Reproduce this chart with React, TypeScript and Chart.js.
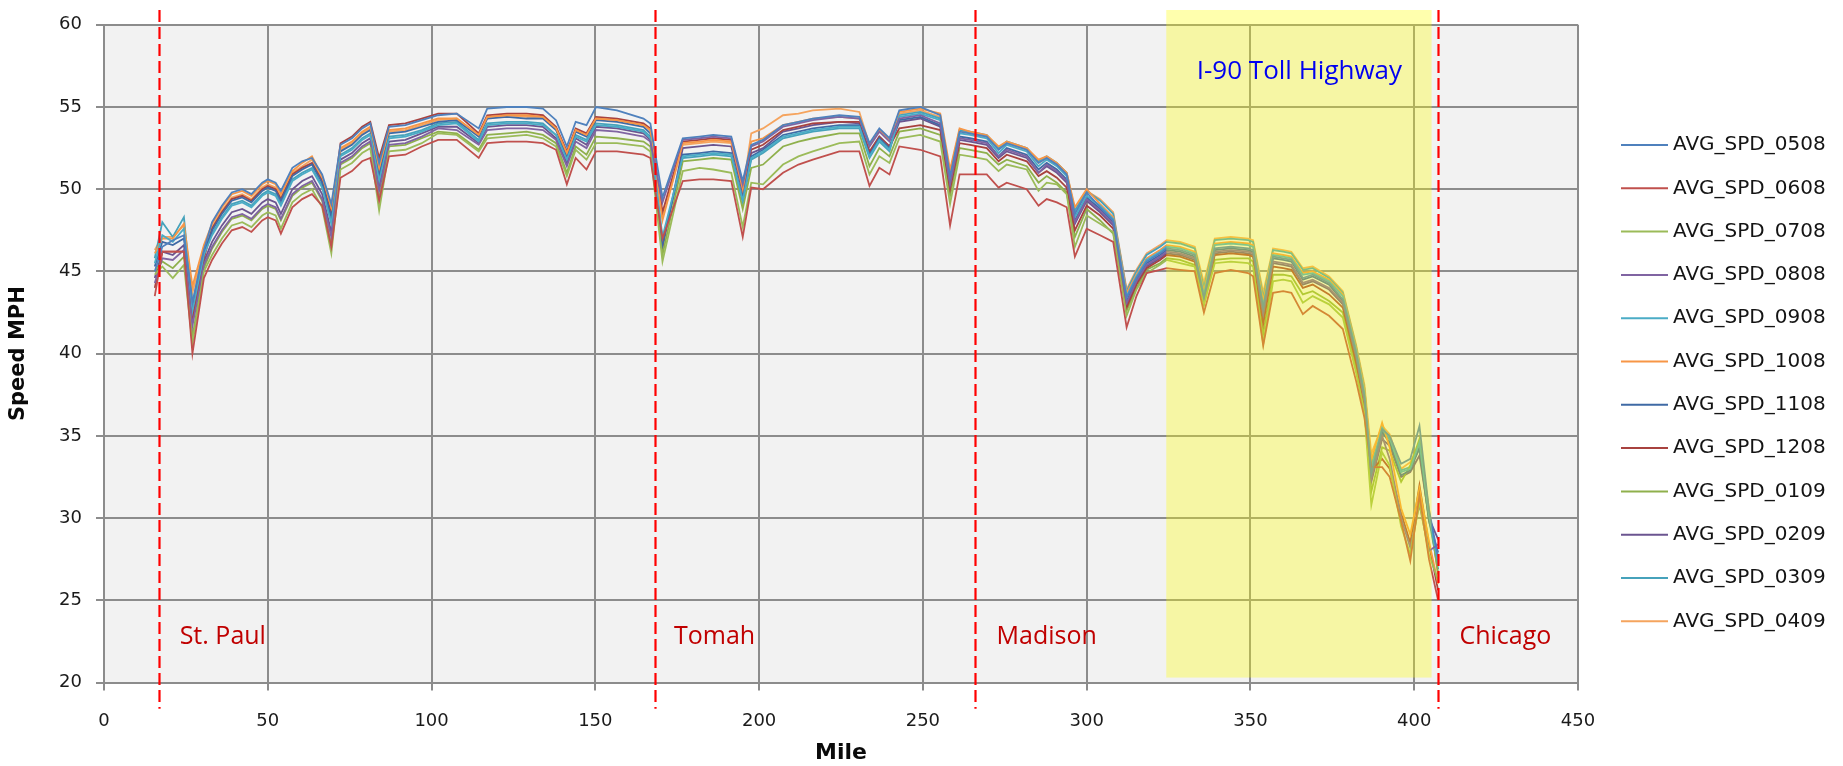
import React, { useEffect, useRef } from 'react';
import { Chart, registerables } from 'chart.js';

Chart.register(...registerables);

// Mile posts along the corridor (shared by every series)
const miles = [15.5, 17.8, 21.0, 24.4, 27.0, 30.5, 33.0, 36.0, 39.0, 42.2, 45.0, 48.3, 50.0, 52.4, 54.0, 57.5, 60.5, 63.5, 66.6, 69.4, 72.2, 75.7, 78.8, 81.3, 84.0, 87.0, 92.0, 97.0, 102.0, 107.7, 114.4, 117.0, 123.0, 129.0, 134.0, 138.0, 141.3, 144.0, 147.3, 150.2, 156.6, 164.7, 166.8, 170.5, 176.7, 181.8, 186.0, 191.5, 195.0, 197.6, 201.2, 207.3, 212.0, 216.4, 224.5, 230.6, 233.7, 236.7, 239.8, 242.8, 249.2, 255.3, 258.3, 261.2, 264.4, 269.5, 273.1, 275.6, 281.7, 285.3, 287.8, 290.9, 293.9, 296.4, 300.0, 304.1, 308.1, 312.2, 315.2, 318.3, 322.4, 324.4, 328.5, 333.0, 335.8, 339.1, 344.0, 349.3, 350.8, 353.9, 356.9, 360.0, 362.5, 366.0, 369.0, 374.0, 378.2, 382.3, 384.8, 386.9, 390.2, 392.5, 396.0, 398.8, 401.6, 404.5, 407.3];

// Monthly average speeds (mph) at each mile post
const spd0508 = [45.0, 46.5, 46.9, 47.2, 43.1, 46.3, 48.0, 49.0, 49.8, 50.0, 49.7, 50.4, 50.6, 50.4, 49.9, 51.3, 51.7, 51.9, 50.9, 49.1, 52.7, 53.1, 53.7, 54.0, 51.6, 53.8, 53.9, 54.2, 54.5, 54.6, 53.7, 54.9, 55.0, 55.0, 54.9, 54.2, 52.6, 54.1, 53.9, 55.0, 54.8, 54.3, 54.0, 49.5, 53.1, 53.2, 53.3, 53.2, 50.5, 52.7, 53.0, 53.9, 54.1, 54.3, 54.5, 54.4, 52.8, 53.7, 53.1, 54.8, 55.0, 54.5, 50.8, 53.5, 53.4, 53.2, 52.4, 52.8, 52.4, 51.6, 51.9, 51.5, 50.9, 48.5, 49.8, 48.9, 48.1, 43.4, 44.6, 45.6, 46.1, 46.4, 46.3, 46.0, 43.4, 46.4, 46.5, 46.4, 46.3, 42.8, 45.9, 45.8, 45.7, 44.6, 44.8, 44.3, 43.3, 40.0, 37.4, 32.7, 35.4, 35.0, 33.3, 33.6, 35.6, 30.5, 27.6];
const spd0608 = [43.5, 46.2, 46.2, 46.2, 40.0, 44.6, 45.7, 46.7, 47.5, 47.7, 47.4, 48.1, 48.3, 48.1, 47.3, 48.9, 49.4, 49.7, 49.0, 46.5, 50.7, 51.1, 51.7, 51.9, 49.3, 52.0, 52.1, 52.6, 53.0, 53.0, 51.9, 52.8, 52.9, 52.9, 52.8, 52.4, 50.3, 51.9, 51.2, 52.3, 52.3, 52.1, 51.9, 47.0, 50.5, 50.6, 50.6, 50.5, 47.1, 50.1, 50.0, 51.0, 51.5, 51.8, 52.3, 52.3, 50.2, 51.3, 50.9, 52.6, 52.4, 52.0, 47.8, 50.9, 50.9, 50.9, 50.1, 50.4, 50.0, 49.0, 49.4, 49.2, 48.9, 45.9, 47.6, 47.2, 46.8, 41.6, 43.5, 44.9, 45.1, 45.2, 45.1, 45.0, 42.5, 44.9, 45.1, 44.9, 44.7, 40.5, 43.7, 43.8, 43.7, 42.4, 42.9, 42.3, 41.5, 38.3, 36.1, 33.1, 33.1, 32.5, 29.8, 27.4, 31.4, 27.5, 25.0];
const spd0708 = [44.8, 45.3, 44.6, 45.4, 40.6, 45.0, 46.0, 47.0, 47.8, 48.0, 47.7, 48.4, 48.6, 48.4, 47.6, 49.2, 49.7, 50.0, 48.9, 46.1, 51.2, 51.6, 52.2, 52.5, 48.7, 52.3, 52.4, 52.8, 53.4, 53.3, 52.3, 53.1, 53.2, 53.3, 53.1, 52.6, 50.8, 52.4, 51.8, 52.8, 52.8, 52.6, 52.3, 45.6, 51.1, 51.3, 51.2, 51.0, 47.7, 50.4, 50.3, 51.5, 52.0, 52.3, 52.8, 52.9, 50.9, 52.0, 51.6, 53.1, 53.3, 52.9, 49.1, 52.1, 52.0, 51.8, 51.1, 51.5, 51.2, 49.9, 50.4, 50.3, 49.7, 46.5, 48.4, 47.9, 47.4, 42.3, 43.9, 44.9, 45.4, 45.7, 45.5, 45.3, 43.0, 45.5, 45.6, 45.5, 45.3, 40.6, 44.4, 44.5, 44.4, 43.1, 43.5, 43.0, 42.2, 38.8, 36.4, 30.8, 34.0, 33.2, 29.5, 27.8, 31.0, 27.8, 26.2];
const spd0808 = [44.3, 45.8, 45.7, 46.3, 41.7, 45.4, 46.5, 47.5, 48.3, 48.5, 48.2, 48.9, 49.1, 48.9, 48.2, 49.7, 50.2, 50.5, 49.4, 47.1, 51.6, 52.0, 52.6, 52.9, 49.9, 52.7, 52.8, 53.2, 53.7, 53.6, 52.7, 53.6, 53.7, 53.7, 53.6, 53.0, 51.4, 52.9, 52.5, 53.6, 53.5, 53.2, 52.9, 49.2, 53.0, 53.1, 53.2, 53.1, 50.3, 52.6, 52.9, 53.8, 54.0, 54.2, 54.4, 54.3, 52.6, 53.5, 52.9, 54.3, 54.5, 54.0, 50.3, 53.1, 53.0, 52.8, 52.0, 52.4, 52.0, 51.0, 51.5, 51.1, 50.5, 48.0, 49.4, 48.7, 47.9, 43.1, 44.4, 45.4, 45.9, 46.2, 46.1, 45.8, 43.2, 46.2, 46.3, 46.2, 46.1, 42.4, 45.6, 45.5, 45.4, 44.3, 44.5, 44.0, 43.1, 39.8, 37.1, 32.4, 35.0, 33.6, 30.0, 28.2, 30.8, 28.0, 28.4];
const spd0908 = [45.5, 47.2, 46.8, 47.6, 42.6, 46.0, 47.2, 48.2, 49.0, 49.2, 48.9, 49.6, 49.8, 49.6, 49.0, 50.5, 50.9, 51.2, 50.1, 47.9, 52.0, 52.4, 53.0, 53.3, 50.5, 53.1, 53.2, 53.5, 53.9, 54.0, 52.9, 53.9, 54.0, 54.0, 53.9, 53.3, 51.8, 53.2, 52.9, 53.9, 53.8, 53.5, 53.1, 47.1, 52.0, 52.1, 52.2, 52.1, 49.3, 51.9, 52.3, 53.2, 53.4, 53.6, 53.8, 53.8, 52.0, 53.0, 52.4, 54.4, 54.6, 54.2, 50.5, 53.4, 53.3, 53.1, 52.2, 52.7, 52.3, 51.4, 51.8, 51.4, 50.8, 48.3, 49.6, 49.0, 48.2, 43.5, 44.7, 45.7, 46.2, 46.5, 46.4, 46.1, 43.6, 46.6, 46.7, 46.6, 46.5, 42.9, 46.0, 45.9, 45.8, 44.8, 44.9, 44.4, 43.5, 40.2, 37.6, 33.0, 35.5, 34.9, 32.8, 33.0, 34.6, 30.2, 27.2];
const spd1008 = [46.1, 47.0, 47.0, 47.9, 44.1, 46.6, 47.9, 48.9, 49.7, 49.9, 49.6, 50.3, 50.5, 50.3, 49.7, 51.1, 51.6, 52.0, 50.8, 48.9, 52.5, 52.9, 53.5, 53.8, 51.3, 53.6, 53.7, 54.0, 54.3, 54.3, 53.3, 54.4, 54.5, 54.5, 54.4, 53.7, 52.2, 53.6, 53.3, 54.3, 54.2, 53.9, 53.6, 48.1, 52.8, 52.9, 53.0, 52.9, 50.0, 52.9, 53.1, 53.9, 54.1, 54.3, 54.4, 54.3, 52.7, 53.6, 53.0, 54.7, 54.9, 54.6, 51.2, 53.7, 53.5, 53.3, 52.6, 52.9, 52.5, 51.8, 52.0, 51.6, 51.0, 48.9, 50.0, 49.1, 48.3, 43.7, 44.8, 45.8, 46.3, 46.6, 46.5, 46.2, 43.8, 46.7, 46.8, 46.7, 46.6, 43.2, 46.1, 46.0, 45.9, 44.9, 45.0, 44.5, 43.6, 40.3, 37.8, 33.5, 35.8, 34.3, 30.6, 29.0, 31.8, 28.6, 26.0];
const spd1108 = [45.3, 46.8, 46.6, 47.0, 42.9, 46.1, 47.5, 48.5, 49.3, 49.5, 49.2, 49.9, 50.1, 49.9, 49.3, 50.8, 51.2, 51.5, 50.4, 48.3, 52.3, 52.7, 53.3, 53.6, 50.9, 53.4, 53.5, 53.8, 54.1, 54.2, 53.2, 54.3, 54.4, 54.3, 54.3, 53.6, 52.0, 53.5, 53.2, 54.2, 54.1, 53.8, 53.4, 46.7, 52.1, 52.2, 52.3, 52.2, 49.4, 52.0, 52.4, 53.3, 53.5, 53.7, 53.9, 53.9, 52.1, 53.1, 52.5, 54.2, 54.4, 53.9, 50.4, 53.2, 53.1, 52.9, 52.0, 52.5, 52.1, 51.2, 51.6, 51.2, 50.6, 48.1, 49.5, 48.8, 48.0, 43.2, 44.5, 45.5, 46.0, 46.3, 46.2, 45.9, 43.3, 46.3, 46.4, 46.3, 46.2, 42.6, 45.8, 45.7, 45.6, 44.5, 44.7, 44.2, 43.2, 39.9, 37.3, 32.5, 35.2, 34.6, 32.6, 32.9, 34.3, 29.8, 27.9];
const spd1208 = [44.0, 46.2, 46.2, 46.2, 42.2, 45.8, 47.6, 48.6, 49.4, 49.6, 49.3, 50.0, 50.2, 50.0, 49.4, 50.9, 51.3, 51.6, 50.5, 48.5, 52.8, 53.2, 53.8, 54.1, 51.9, 53.9, 54.0, 54.3, 54.6, 54.6, 53.4, 54.5, 54.6, 54.6, 54.5, 53.8, 52.3, 53.7, 53.4, 54.4, 54.3, 54.0, 53.7, 48.6, 52.9, 53.0, 53.1, 53.0, 50.2, 52.4, 52.7, 53.6, 53.8, 54.0, 54.1, 54.1, 52.3, 53.2, 52.6, 53.7, 53.9, 53.6, 50.0, 52.8, 52.7, 52.5, 51.7, 52.1, 51.7, 50.8, 51.1, 50.7, 50.1, 47.5, 49.0, 48.4, 47.6, 42.8, 44.2, 45.2, 45.7, 46.0, 45.9, 45.6, 43.1, 46.0, 46.1, 46.0, 45.9, 41.8, 45.3, 45.2, 45.1, 44.0, 44.2, 43.6, 42.8, 39.4, 36.9, 32.9, 33.6, 33.0, 30.3, 28.5, 32.0, 28.4, 25.6];
const spd0109 = [45.0, 45.6, 45.2, 45.9, 41.0, 45.2, 46.4, 47.4, 48.2, 48.4, 48.1, 48.8, 49.0, 48.8, 48.1, 49.6, 50.1, 50.4, 49.3, 46.6, 51.5, 51.9, 52.5, 52.8, 49.4, 52.6, 52.7, 53.1, 53.5, 53.4, 52.4, 53.3, 53.4, 53.5, 53.3, 52.8, 51.0, 52.6, 52.1, 53.2, 53.1, 52.9, 52.6, 46.0, 51.7, 51.8, 51.9, 51.8, 48.8, 51.3, 51.5, 52.6, 52.9, 53.1, 53.4, 53.4, 51.4, 52.5, 52.0, 53.5, 53.7, 53.3, 49.6, 52.5, 52.4, 52.2, 51.5, 51.8, 51.4, 50.4, 50.8, 50.4, 49.8, 47.1, 48.8, 48.1, 47.3, 42.6, 44.0, 45.1, 45.5, 45.8, 45.7, 45.4, 43.0, 45.7, 45.8, 45.8, 45.6, 41.2, 44.8, 44.8, 44.7, 43.6, 43.8, 43.2, 42.5, 39.1, 36.6, 31.6, 34.3, 34.1, 32.2, 33.2, 34.8, 30.4, 26.6];
const spd0209 = [44.6, 46.2, 46.0, 46.6, 42.0, 45.6, 46.8, 47.8, 48.6, 48.8, 48.5, 49.2, 49.4, 49.2, 48.5, 50.0, 50.5, 50.8, 49.7, 47.4, 51.8, 52.2, 52.8, 53.1, 50.2, 52.9, 53.0, 53.4, 53.8, 53.8, 52.8, 53.8, 53.9, 53.9, 53.8, 53.1, 51.6, 53.1, 52.7, 53.8, 53.7, 53.4, 53.0, 46.4, 52.5, 52.6, 52.7, 52.6, 49.8, 52.2, 52.5, 53.5, 53.7, 53.9, 54.1, 54.0, 52.2, 53.2, 52.6, 54.1, 54.3, 53.8, 50.2, 53.0, 52.9, 52.7, 51.9, 52.3, 51.9, 51.0, 51.4, 51.0, 50.4, 47.9, 49.3, 48.6, 47.8, 43.0, 44.3, 45.3, 45.8, 46.1, 46.0, 45.7, 43.2, 46.1, 46.2, 46.1, 46.0, 42.2, 45.5, 45.4, 45.3, 44.2, 44.4, 43.9, 43.0, 39.7, 37.0, 32.2, 34.8, 34.4, 32.5, 32.8, 33.8, 30.0, 28.7];
const spd0309 = [45.8, 48.0, 47.1, 48.3, 43.0, 46.4, 47.3, 48.3, 49.1, 49.3, 49.0, 49.7, 49.9, 49.7, 49.1, 50.6, 51.0, 51.3, 50.2, 48.0, 52.1, 52.5, 53.1, 53.4, 50.7, 53.2, 53.3, 53.6, 54.0, 54.1, 53.0, 54.0, 54.1, 54.1, 54.0, 53.3, 51.9, 53.3, 53.0, 54.0, 53.9, 53.6, 53.2, 46.9, 51.9, 52.0, 52.1, 52.0, 49.2, 51.8, 52.2, 53.1, 53.3, 53.5, 53.7, 53.7, 51.9, 52.9, 52.3, 54.5, 54.7, 54.3, 50.7, 53.6, 53.5, 53.3, 52.5, 52.9, 52.5, 51.7, 52.0, 51.6, 51.0, 48.7, 49.9, 49.3, 48.5, 43.8, 45.0, 46.0, 46.5, 46.8, 46.7, 46.4, 44.0, 46.9, 47.0, 46.9, 46.8, 43.4, 46.3, 46.2, 46.1, 45.1, 45.2, 44.6, 43.7, 40.4, 37.9, 33.3, 35.3, 34.8, 32.9, 33.1, 34.2, 29.9, 26.9];
const spd0409 = [46.3, 47.1, 47.1, 47.8, 43.7, 46.5, 47.7, 48.7, 49.5, 49.7, 49.4, 50.1, 50.3, 50.1, 49.5, 51.0, 51.4, 51.8, 50.6, 48.7, 52.4, 52.8, 53.4, 53.7, 51.2, 53.5, 53.6, 53.9, 54.2, 54.3, 53.3, 54.4, 54.5, 54.4, 54.4, 53.7, 52.2, 53.6, 53.3, 54.3, 54.2, 53.9, 53.6, 48.3, 52.7, 52.8, 52.9, 52.8, 49.9, 53.4, 53.7, 54.5, 54.6, 54.8, 54.9, 54.7, 52.7, 53.6, 53.0, 54.6, 54.8, 54.4, 51.0, 53.6, 53.4, 53.2, 52.5, 52.8, 52.4, 51.6, 51.9, 51.5, 50.9, 48.7, 49.9, 49.4, 48.6, 43.9, 45.1, 46.1, 46.6, 46.9, 46.8, 46.5, 44.3, 47.0, 47.1, 47.0, 46.9, 43.7, 46.4, 46.3, 46.2, 45.2, 45.3, 44.7, 43.8, 40.5, 38.1, 33.9, 35.6, 35.1, 33.0, 33.4, 34.5, 30.6, 26.5];

const seriesNames = ['AVG_SPD_0508', 'AVG_SPD_0608', 'AVG_SPD_0708', 'AVG_SPD_0808', 'AVG_SPD_0908', 'AVG_SPD_1008', 'AVG_SPD_1108', 'AVG_SPD_1208', 'AVG_SPD_0109', 'AVG_SPD_0209', 'AVG_SPD_0309', 'AVG_SPD_0409'];
const seriesValues = [spd0508, spd0608, spd0708, spd0808, spd0908, spd1008, spd1108, spd1208, spd0109, spd0209, spd0309, spd0409];
const seriesColors = ['#4f81bd', '#c0504d', '#9bbb59', '#8064a2', '#4bacc6', '#f79646', '#3f6aa5', '#a8423f', '#8fb04c', '#6b5590', '#46a2bb', '#f5a45e'];

// City boundaries (mile) and their labels
const cityMarkerMiles = [16.7, 168.2, 265.8, 407.3];
const cityNames = ['St. Paul', 'Tomah', 'Madison', 'Chicago'];
const cityLabelMiles = [23.1, 174.0, 272.5, 413.8];
const cityLabelSpeed = 22.32;
const markerTopSpeed = 60.9;
const markerBottomSpeed = 18.4;

// Toll highway stretch
const tollName = 'I-90 Toll Highway';
const tollFromMile = 324.3;
const tollToMile = 405.3;
const tollBottomSpeed = 20.3;
const tollTopSpeed = 60.9;
const tollLabelMile = 333.6;
const tollLabelSpeed = 56.71;

const plotBackground = {
  id: 'plotBackground',
  beforeDraw(chart: any) {
    const { ctx, chartArea: a } = chart;
    ctx.save();
    ctx.fillStyle = '#f2f2f2';
    ctx.fillRect(a.left, a.top, a.right - a.left, a.bottom - a.top);
    ctx.restore();
  },
};

const routeAnnotations = {
  id: 'routeAnnotations',
  afterDatasetsDraw(chart: any) {
    const { ctx } = chart;
    const xs = chart.scales.x;
    const ys = chart.scales.y;
    ctx.save();
    // translucent toll zone
    const l = xs.getPixelForValue(tollFromMile);
    const r = xs.getPixelForValue(tollToMile);
    const t = ys.getPixelForValue(tollTopSpeed);
    const b = ys.getPixelForValue(tollBottomSpeed);
    ctx.fillStyle = 'rgba(255, 255, 0, 0.32)';
    ctx.fillRect(l, t, r - l, b - t);

    // dashed city boundaries
    ctx.strokeStyle = '#ff0000';
    ctx.lineWidth = 2.2;
    ctx.setLineDash([12, 5]);
    cityMarkerMiles.forEach((m) => {
      const px = Math.round(xs.getPixelForValue(m)) + 0.5;
      ctx.beginPath();
      ctx.moveTo(px, ys.getPixelForValue(markerTopSpeed));
      ctx.lineTo(px, ys.getPixelForValue(markerBottomSpeed));
      ctx.stroke();
    });
    ctx.setLineDash([]);

    // city names
    ctx.textBaseline = 'alphabetic';
    ctx.textAlign = 'left';
    ctx.font = '25px "Open Sans"';
    ctx.fillStyle = '#c00000';
    cityNames.forEach((name, i) => {
      ctx.fillText(name, xs.getPixelForValue(cityLabelMiles[i]), ys.getPixelForValue(cityLabelSpeed));
    });

    ctx.font = '26px "Open Sans"';
    ctx.fillStyle = '#0000f0';
    ctx.fillText(tollName, xs.getPixelForValue(tollLabelMile), ys.getPixelForValue(tollLabelSpeed));
    ctx.restore();
  },
};

const sideLegend = {
  id: 'sideLegend',
  afterDraw(chart: any) {
    const { ctx } = chart;
    const lineStart = chart.chartArea.right + 43;
    const lineEnd = lineStart + 47;
    const textX = lineEnd + 5;
    const firstY = 145;
    const step = 43.3;
    ctx.save();
    ctx.font = '20px "DejaVu Sans"';
    ctx.textBaseline = 'middle';
    ctx.textAlign = 'left';
    chart.data.datasets.forEach((ds: any, i: number) => {
      const yy = firstY + i * step;
      ctx.strokeStyle = ds.borderColor;
      ctx.lineWidth = 2;
      ctx.beginPath();
      ctx.moveTo(lineStart, yy);
      ctx.lineTo(lineEnd, yy);
      ctx.stroke();
      ctx.fillStyle = '#141414';
      ctx.fillText(ds.label, textX, yy);
    });
    ctx.restore();
  },
};

export default function App() {
  const canvasRef = useRef<HTMLCanvasElement | null>(null);

  useEffect(() => {
    if (!canvasRef.current) return;
    const datasets = seriesNames.map((name, i) => ({
      label: name,
      data: miles.map((m, j) => ({ x: m, y: seriesValues[i][j] })),
      borderColor: seriesColors[i],
      backgroundColor: seriesColors[i],
      borderWidth: 1.8,
      pointRadius: 0,
      tension: 0,
      fill: false,
    }));

    const gridColor = '#8c8c8c';
    const tickFont = { family: 'DejaVu Sans', size: 18 };

    const chart = new Chart(canvasRef.current, {
      type: 'line',
      data: { datasets },
      options: {
        animation: false,
        responsive: true,
        maintainAspectRatio: false,
        devicePixelRatio: 1,
        layout: { padding: { top: 19.5, right: 265, bottom: 0, left: 0 } },
        plugins: {
          legend: { display: false },
          tooltip: { enabled: false },
        },
        scales: {
          x: {
            type: 'linear',
            min: 0,
            max: 450,
            ticks: { stepSize: 50, font: tickFont, color: '#1a1a1a', padding: 20, maxRotation: 0 },
            grid: { color: gridColor, lineWidth: 2, tickLength: 8 },
            border: { color: gridColor, width: 2 },
            title: {
              display: true,
              text: 'Mile',
              color: '#0a0a0a',
              font: { family: 'DejaVu Sans', size: 22, weight: 'bold' },
              padding: { top: 0, bottom: 0 },
            },
            afterFit: (scale: any) => {
              scale.height = 83.5;
            },
          },
          y: {
            type: 'linear',
            min: 20,
            max: 60,
            ticks: { stepSize: 5, font: tickFont, color: '#1a1a1a', padding: 14 },
            grid: { color: gridColor, lineWidth: 2, tickLength: 8 },
            border: { color: gridColor, width: 2 },
            title: {
              display: true,
              text: 'Speed MPH',
              color: '#0a0a0a',
              font: { family: 'DejaVu Sans', size: 21, weight: 'bold' },
              padding: { top: 6, bottom: 0 },
            },
            afterFit: (scale: any) => {
              scale.width = 104;
            },
          },
        },
      },
      plugins: [plotBackground, routeAnnotations, sideLegend],
    });

    return () => chart.destroy();
  }, []);

  return (
    <div style={{ position: 'fixed', left: 0, top: 0, width: 1843, height: 766, background: '#ffffff' }}>
      <canvas ref={canvasRef} />
    </div>
  );
}
